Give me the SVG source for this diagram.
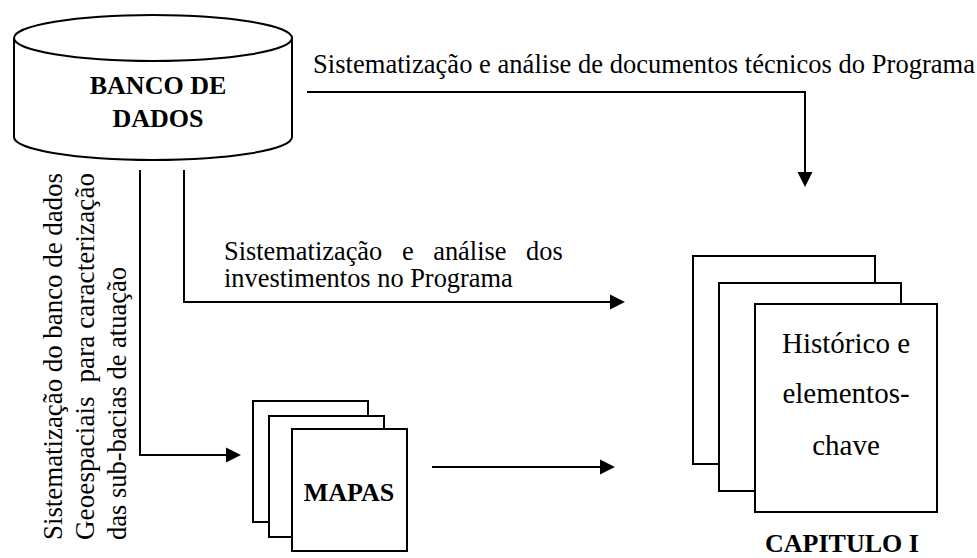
<svg xmlns="http://www.w3.org/2000/svg" width="977" height="558" viewBox="0 0 977 558">
<style>
.shape{fill:#fff;stroke:#000;stroke-width:2}
.conn{fill:none;stroke:#000;stroke-width:2}
.t{font-family:"Liberation Serif","Times New Roman",serif;fill:#000}
.b{font-weight:bold}
</style>
<defs>
<marker id="arr" viewBox="0 0 10 10" markerUnits="userSpaceOnUse" markerWidth="15" markerHeight="16" refX="8.7" refY="5" orient="auto">
<path d="M0,0 L10,5 L0,10 z" fill="#000"/>
</marker>
</defs>
<rect width="977" height="558" fill="#fff"/>

<g id="banco">
<path class="shape" d="M14,38 L14,137 A139,23 0 0,0 292,137 L292,38"/>
<ellipse class="shape" cx="153" cy="38" rx="139" ry="23"/>
<text class="t b" x="158" y="94" font-size="26" text-anchor="middle">BANCO DE</text>
<text class="t b" x="158" y="127" font-size="26" text-anchor="middle">DADOS</text>
</g>

<g id="connectors">
<path class="conn" d="M307,92 H805 V185" marker-end="url(#arr)"/>
<path class="conn" d="M184,170 V302 H623" marker-end="url(#arr)"/>
<path class="conn" d="M140,170 V455 H239" marker-end="url(#arr)"/>
<path class="conn" d="M432,467 H613" marker-end="url(#arr)"/>
</g>

<g id="label-documentos">
<text class="t" x="313" y="73" font-size="26.5" textLength="662" lengthAdjust="spacing">Sistematização e análise de documentos técnicos do Programa</text>
</g>

<g id="label-investimentos">
<text class="t" x="224" y="260" font-size="26.4" word-spacing="13">Sistematização e análise dos</text>
<text class="t" x="224" y="287" font-size="26.4">investimentos no Programa</text>
</g>

<g id="label-geo">
<text class="t" transform="translate(62,540) rotate(-90)" font-size="27" textLength="367" lengthAdjust="spacing">Sistematização do banco de dados</text>
<text class="t" transform="translate(94,540) rotate(-90)" font-size="27" textLength="367" lengthAdjust="spacing" xml:space="preserve">Geoespaciais&#160; para caracterização</text>
<text class="t" transform="translate(126,540) rotate(-90)" font-size="26.5">das sub-bacias de atuação</text>
</g>

<g id="mapas">
<rect class="shape" x="253" y="401" width="115" height="121"/>
<rect class="shape" x="269" y="416" width="115" height="121"/>
<rect class="shape" x="292" y="429" width="115" height="122"/>
<text class="t b" x="349" y="501" font-size="26" text-anchor="middle">MAPAS</text>
</g>

<g id="capitulo">
<rect class="shape" x="693" y="256" width="182" height="208"/>
<rect class="shape" x="719" y="283" width="182" height="208"/>
<rect class="shape" x="755" y="304" width="182" height="208"/>
<text class="t" x="846" y="353" font-size="29" text-anchor="middle">Histórico e</text>
<text class="t" x="846" y="403" font-size="29" text-anchor="middle">elementos-</text>
<text class="t" x="846" y="455" font-size="29" text-anchor="middle">chave</text>
<text class="t b" x="842" y="552" font-size="26" text-anchor="middle">CAPITULO I</text>
</g>
</svg>
